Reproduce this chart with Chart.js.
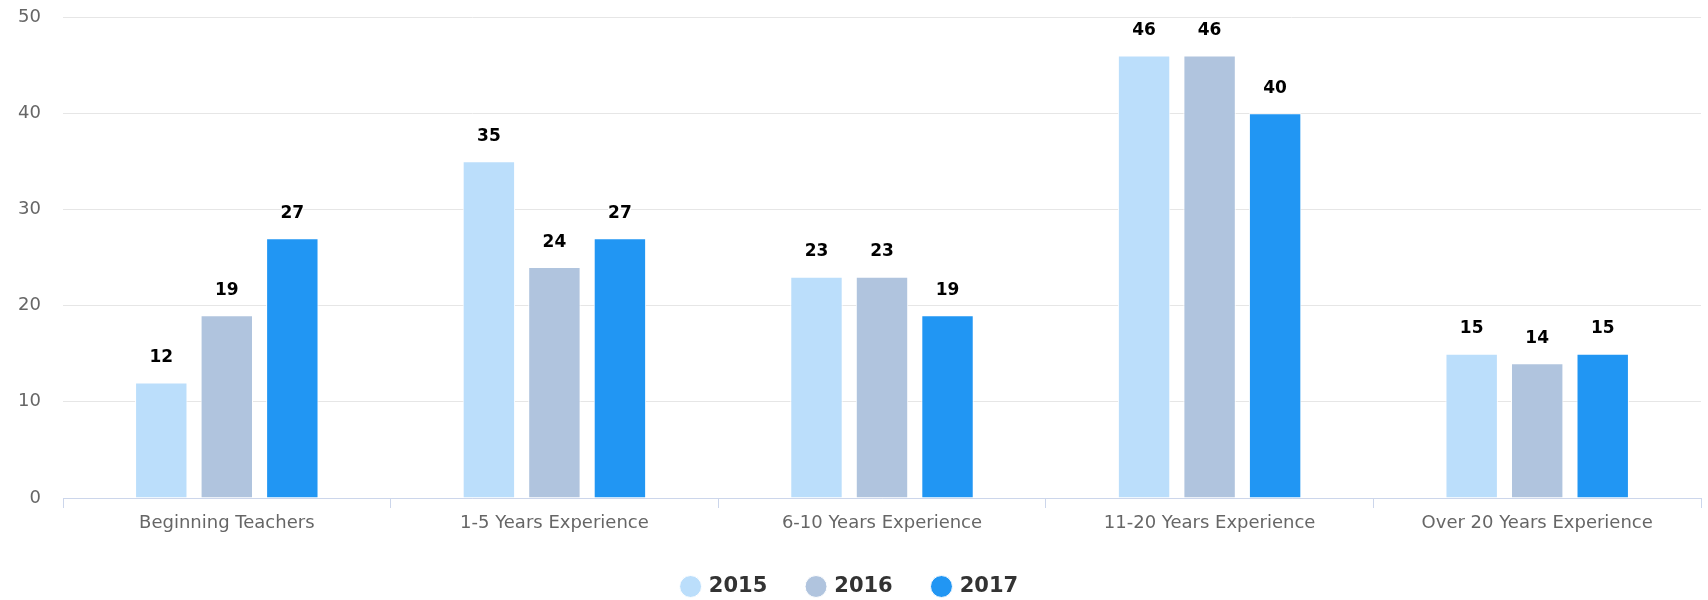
<!DOCTYPE html>
<html>
<head>
<meta charset="utf-8">
<script src="https://cdn.jsdelivr.net/npm/chart.js@4"></script>
<style>
  html, body { margin: 0; padding: 0; background: #fff; }
  #wrap { width: 1708px; height: 600px; }
</style>
</head>
<body>
<div id="wrap"><canvas id="expChart"></canvas></div>
<script>
// categories and values
let categories = ['Beginning Teachers', '1-5 Years Experience', '6-10 Years Experience', '11-20 Years Experience', 'Over 20 Years Experience'];
let years = ['2015', '2016', '2017'];
let values2015 = [12, 35, 23, 46, 15];
let values2016 = [19, 24, 23, 46, 14];
let values2017 = [27, 27, 19, 40, 15];
let yTicks = [0, 10, 20, 30, 40, 50];

let colors = ['#bbdefb', '#b0c4de', '#2196f3'];
let fontFamily = '"DejaVu Sans", Verdana, sans-serif';

// draws the value above each bar, like highcharts dataLabels
let valueLabels = {
  id: 'valueLabels',
  afterDatasetsDraw(chart) {
    let ctx = chart.ctx;
    ctx.save();
    ctx.font = 'bold 17px ' + fontFamily;
    ctx.textAlign = 'center';
    ctx.textBaseline = 'middle';
    ctx.lineJoin = 'round';
    chart.data.datasets.forEach((ds, i) => {
      chart.getDatasetMeta(i).data.forEach((bar, j) => {
        let txt = String(ds.data[j]);
        let y = bar.y - 25;
        ctx.lineWidth = 3;
        ctx.strokeStyle = '#fff';
        ctx.strokeText(txt, bar.x, y);
        ctx.fillStyle = '#000';
        ctx.fillText(txt, bar.x, y);
      });
    });
    ctx.restore();
  }
};

let ctx = document.getElementById('expChart').getContext('2d');

let myChart = new Chart(ctx, {
  type: 'bar',
  data: {
    labels: categories,
    datasets: [
      { label: years[0], data: values2015, backgroundColor: colors[0] },
      { label: years[1], data: values2016, backgroundColor: colors[1] },
      { label: years[2], data: values2017, backgroundColor: colors[2] }
    ].map(d => Object.assign(d, { borderColor: '#fff', borderWidth: 1, categoryPercentage: 0.6, barPercentage: 0.8 }))
  },
  options: {
    responsive: true,
    maintainAspectRatio: false,
    animation: false,
    layout: { padding: { top: 17, right: 7, left: 0, bottom: -7 } },
    plugins: {
      tooltip: { enabled: false },
      legend: {
        position: 'bottom',
        labels: {
          usePointStyle: true,
          pointStyle: 'circle',
          boxHeight: 15.5,
          boxWidth: 15.5,
          padding: 41,
          color: '#333',
          font: { family: fontFamily, size: 21, weight: 'bold' }
        }
      }
    },
    scales: {
      x: {
        grid: { drawOnChartArea: false, drawTicks: true, tickLength: 10, color: '#ccd6eb', offset: true },
        border: { color: '#ccd6eb', width: 1 },
        ticks: { color: '#666', padding: 5, font: { family: fontFamily, size: 18 }, maxRotation: 0 },
        afterFit(scale) { scale.height = 37; }
      },
      y: {
        min: 0,
        max: 50,
        afterBuildTicks(scale) { scale.ticks = yTicks.map(v => ({ value: v })); },
        // invisible tick marks keep the labels away from the grid without extra top padding
        grid: { color: '#e6e6e6', drawTicks: true, tickLength: 22, tickColor: 'rgba(0,0,0,0)' },
        border: { display: false },
        ticks: { color: '#666', padding: 0, font: { family: fontFamily, size: 18 } },
        afterFit(scale) { scale.width = 63; }
      }
    }
  },
  plugins: [valueLabels]
});
</script>
</body>
</html>
